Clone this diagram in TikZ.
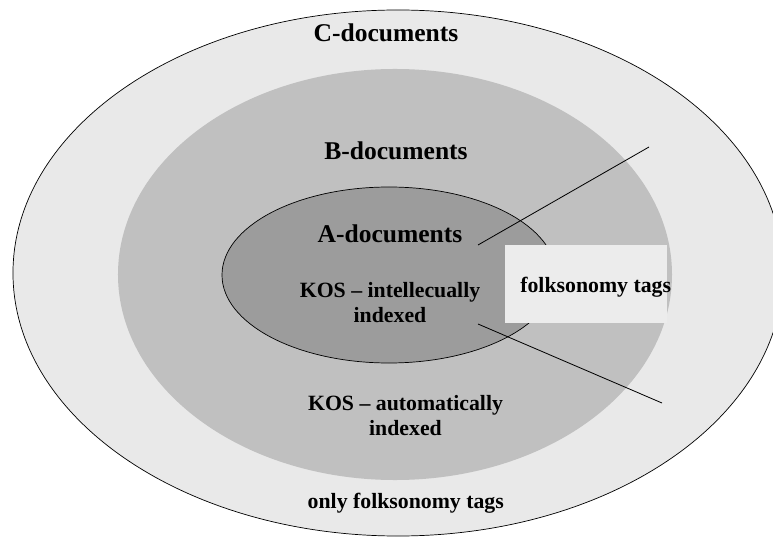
\documentclass[tikz,border=0pt]{standalone}
\usepackage{fontspec}
\setmainfont{Liberation Serif}
\usetikzlibrary{shapes.geometric}

\definecolor{outergray}{HTML}{E9E9E9}
\definecolor{midgray}{HTML}{C0C0C0}
\definecolor{innergray}{HTML}{9C9C9C}
\definecolor{tagwhite}{HTML}{ECECEC}

\begin{document}
\begin{tikzpicture}[
    x=0.03cm, y=-0.03cm,
    ring/.style={ellipse, inner sep=0pt, outer sep=0pt},
    head/.style={font=\bfseries\fontsize{21.8}{24}\selectfont, anchor=base},
    lbl/.style={font=\bfseries\fontsize{18.6}{21.1}\selectfont, align=center, anchor=base},
    pointer/.style={line width=0.7pt}
  ]
    \clip (0,0) rectangle (773,537);

    \node[ring, draw, line width=0.6pt, fill=outergray,
      minimum width=23.1cm, minimum height=15.78cm] (cdocs) at (398,273) {};
    \node[ring, fill=midgray,
      minimum width=16.62cm, minimum height=12.33cm] (bdocs) at (395,274.5) {};
    \node[ring, draw, line width=0.6pt, fill=innergray,
      minimum width=10.02cm, minimum height=5.28cm] (adocs) at (389,275) {};

    \coordinate (upfrom) at (478,245);
    \coordinate (upto) at (649,147);
    \coordinate (downfrom) at (478,324);
    \coordinate (downto) at (662,403);
    \draw[pointer] (upfrom) -- (upto);
    \draw[pointer] (downfrom) -- (downto);

    \node[rectangle, fill=tagwhite, inner sep=0pt,
      minimum width=4.86cm, minimum height=2.34cm] (tagbox) at (586,284) {};

    \node[head] (ctitle) at (386,41.5) {C-documents};
    \node[head] (btitle) at (396,160) {B-documents};
    \node[head] (atitle) at (390,242.7) {A-documents};
    % base anchor sits on the last line here
    \node[lbl] (akos) at (390,322.7) {KOS -- intellecually\\indexed};
    \node[lbl] (bkos) at (405.5,435) {KOS -- automatically\\indexed};
    \node[lbl] (tagtext) at (595.7,293) {folksonomy tags};
    \node[lbl] (conly) at (405.8,508.3) {only folksonomy tags};
  \end{tikzpicture}
\end{document}
